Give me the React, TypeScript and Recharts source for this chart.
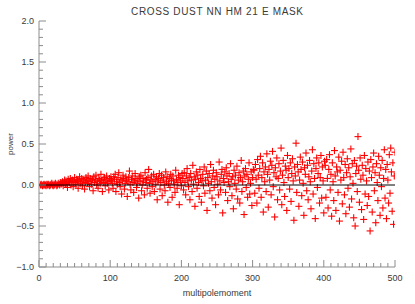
import React from 'react';
import { ComposedChart, Scatter, XAxis, YAxis } from 'recharts';

const TITLE = 'CROSS DUST NN HM 21 E MASK';
const X_LABEL = 'multipolemoment';
const Y_LABEL = 'power';
const FIRST_MULTIPOLE = 2;

const power2to101 = [
  0.00, 0.01, 0.00, -0.01, 0.00, 0.01, 0.00, 0.00, -0.01, 0.01,
  0.00, 0.01, 0.00, -0.01, 0.00, 0.01, 0.02, 0.00, -0.01, 0.01,
  0.00, 0.02, 0.01, -0.01, 0.00, 0.02, 0.01, 0.00, 0.03, 0.01,
  0.02, 0.04, -0.01, 0.03, 0.06, 0.01, 0.05, 0.02, -0.03, 0.07,
  0.04, 0.03, 0.08, 0.00, 0.05, 0.06, -0.02, 0.04, 0.09, 0.03,
  0.01, 0.07, 0.05, -0.04, 0.06, 0.10, 0.02, 0.04, 0.08, -0.01,
  0.05, 0.07, -0.05, 0.03, 0.09, 0.06, 0.02, 0.11, 0.04, -0.02,
  0.08, 0.05, 0.01, 0.07, -0.07, 0.10, 0.03, 0.06, 0.12, 0.00,
  0.04, -0.04, 0.08, 0.06, 0.02, 0.13, 0.05, -0.08, 0.07, 0.03,
  0.09, -0.01, 0.06, 0.11, 0.02, 0.04, -0.06, 0.08, 0.05, 0.10,
];
const power102to201 = [
  0.06, 0.02, -0.04, 0.10, 0.07, 0.13, -0.08, 0.04, 0.01, 0.09,
  0.15, 0.03, -0.02, 0.07, -0.11, 0.05, 0.12, 0.08, -0.05, 0.02,
  0.10, 0.06, -0.14, 0.04, 0.09, 0.17, 0.01, -0.06, 0.07, 0.11,
  0.03, -0.09, 0.05, 0.14, 0.08, -0.03, 0.02, 0.06, -0.16, 0.10,
  0.04, 0.12, -0.07, 0.00, 0.08, 0.05, -0.12, 0.15, 0.03, 0.07,
  -0.04, 0.09, 0.19, 0.02, -0.10, 0.06, 0.11, -0.02, 0.04, 0.13,
  -0.08, 0.07, 0.01, 0.10, -0.18, 0.05, 0.08, 0.14, -0.05, 0.03,
  0.12, -0.13, 0.06, 0.09, 0.00, -0.07, 0.16, 0.04, 0.10, -0.21,
  0.02, 0.08, -0.03, 0.13, 0.06, -0.15, 0.11, 0.05, 0.01, -0.09,
  0.18, 0.07, -0.04, 0.03, 0.12, -0.24, 0.09, 0.05, -0.01, 0.14,
];
const power202to301 = [
  0.08, -0.06, 0.15, 0.03, -0.12, 0.11, 0.20, 0.05, -0.02, 0.09,
  -0.18, 0.14, 0.06, -0.08, 0.24, 0.01, 0.10, -0.26, 0.07, 0.16,
  -0.04, 0.12, 0.03, -0.14, 0.19, 0.08, -0.21, 0.05, 0.13, -0.01,
  0.22, -0.10, 0.06, 0.17, -0.31, 0.09, 0.02, 0.14, -0.07, 0.25,
  0.04, -0.16, 0.11, 0.18, -0.03, 0.07, -0.24, 0.15, 0.10, 0.01,
  -0.12, 0.28, 0.05, -0.06, 0.13, 0.19, -0.34, 0.08, 0.03, 0.16,
  -0.09, 0.21, 0.11, -0.19, 0.04, 0.14, -0.02, 0.26, 0.07, -0.13,
  0.10, -0.29, 0.18, 0.02, 0.12, -0.05, 0.23, -0.17, 0.06, 0.15,
  -0.22, 0.09, 0.30, -0.08, 0.04, 0.17, -0.36, 0.11, 0.20, -0.03,
  0.13, -0.15, 0.07, 0.27, -0.11, 0.02, 0.16, -0.25, 0.09, 0.19,
];
const power302to401 = [
  0.18, -0.10, 0.25, 0.07, -0.22, 0.31, 0.12, -0.04, 0.20, 0.35,
  -0.15, 0.09, 0.27, -0.33, 0.16, 0.04, 0.22, -0.08, 0.38, 0.13,
  -0.27, 0.19, 0.06, 0.29, -0.12, 0.24, 0.41, -0.02, 0.15, -0.39,
  0.21, 0.10, 0.33, -0.18, 0.08, 0.26, -0.06, 0.17, 0.45, -0.24,
  0.12, 0.30, 0.03, -0.14, 0.23, 0.18, -0.31, 0.36, 0.09, 0.20,
  -0.05, 0.27, -0.20, 0.14, 0.32, 0.05, -0.43, 0.22, 0.11, 0.51,
  -0.09, 0.25, 0.16, -0.26, 0.06, 0.34, 0.19, -0.13, 0.28, 0.02,
  -0.37, 0.21, 0.13, 0.39, -0.07, 0.24, -0.18, 0.10, 0.30, 0.04,
  -0.29, 0.17, 0.43, -0.11, 0.26, 0.08, -0.41, 0.20, 0.33, -0.03,
  0.14, 0.27, -0.22, 0.09, 0.36, -0.16, 0.22, 0.05, -0.34, 0.29,
];
const power402to500 = [
  0.24, -0.15, 0.31, 0.08, -0.28, 0.19, 0.37, -0.06, 0.13, -0.38,
  0.27, 0.04, -0.19, 0.42, 0.11, -0.31, 0.22, 0.16, -0.09, 0.34,
  -0.44, 0.18, 0.06, 0.29, -0.23, 0.40, 0.09, -0.12, 0.25, -0.35,
  0.15, 0.32, -0.04, 0.21, -0.27, 0.10, 0.44, -0.17, 0.26, 0.02,
  -0.40, 0.30, -0.50, 0.14, 0.23, -0.08, 0.59, 0.18, -0.21, 0.33,
  0.07, -0.30, 0.24, 0.12, -0.42, 0.36, -0.11, 0.20, 0.05, -0.25,
  0.28, -0.14, 0.17, -0.56, 0.31, 0.09, -0.33, 0.22, 0.39, -0.07,
  0.15, -0.46, 0.26, 0.03, -0.19, 0.35, 0.12, -0.37, 0.21, -0.02,
  0.30, -0.28, 0.08, 0.43, -0.16, 0.19, -0.41, 0.25, 0.06, -0.22,
  0.37, -0.10, 0.45, 0.16, -0.32, 0.27, -0.48, 0.11, 0.40,
];

const modelMultipoles = [0, 500];
const modelPower = [0, 0];

const xDomain = [0, 500];
const yDomain = [-1, 2];
const xMajorStep = 100;
const xMinorStep = 10;
const yMajorStep = 0.5;
const yMinorStep = 0.1;

const allPower = [
  ...power2to101,
  ...power102to201,
  ...power202to301,
  ...power302to401,
  ...power402to500,
];
const points = allPower.map((p, i) => ({ l: FIRST_MULTIPOLE + i, power: p }));
const model = modelMultipoles.map((l, i) => ({ l, power: modelPower[i] }));

const xTicks = Array.from(
  { length: Math.round((xDomain[1] - xDomain[0]) / xMinorStep) + 1 },
  (_, i) => xDomain[0] + i * xMinorStep
);
const yTicks = Array.from(
  { length: Math.round((yDomain[1] - yDomain[0]) / yMinorStep) + 1 },
  (_, i) => Math.round((yDomain[0] + i * yMinorStep) * 10) / 10
);

const AXIS = '#8c8c8c';
const TEXT = '#3a3a3a';
const FONT = '"Liberation Sans", Arial, Helvetica, sans-serif';
const MAJOR_LEN = 7;
const MINOR_LEN = 4;

const isXMajor = (v: number) => Math.abs(v / xMajorStep - Math.round(v / xMajorStep)) < 1e-6;
const isYMajor = (v: number) => Math.abs(v / yMajorStep - Math.round(v / yMajorStep)) < 1e-6;
const fmtY = (v: number) => (v < 0 ? '\u2212' + Math.abs(v).toFixed(1) : v.toFixed(1));

const BottomTick = (props: any) => {
  const { x, y, payload } = props;
  const v = payload.value;
  const major = isXMajor(v);
  return (
    <g>
      <line x1={x} x2={x} y1={y} y2={y - (major ? MAJOR_LEN : MINOR_LEN)} stroke={AXIS} strokeWidth={1} />
      {major && (
        <text x={x} y={y + 14} textAnchor="middle" fontSize={9} fill={TEXT} fontFamily={FONT}>
          {v}
        </text>
      )}
    </g>
  );
};

const TopTick = (props: any) => {
  const { x, y, payload } = props;
  const major = isXMajor(payload.value);
  return <line x1={x} x2={x} y1={y} y2={y + (major ? MAJOR_LEN : MINOR_LEN)} stroke={AXIS} strokeWidth={1} />;
};

const LeftTick = (props: any) => {
  const { x, y, payload } = props;
  const v = payload.value;
  const major = isYMajor(v);
  return (
    <g>
      <line x1={x} x2={x + (major ? MAJOR_LEN : MINOR_LEN)} y1={y} y2={y} stroke={AXIS} strokeWidth={1} />
      {major && (
        <text x={x - 5} y={y + 3} textAnchor="end" fontSize={9} fill={TEXT} fontFamily={FONT}>
          {fmtY(v)}
        </text>
      )}
    </g>
  );
};

const RightTick = (props: any) => {
  const { x, y, payload } = props;
  const major = isYMajor(payload.value);
  return <line x1={x} x2={x - (major ? MAJOR_LEN : MINOR_LEN)} y1={y} y2={y} stroke={AXIS} strokeWidth={1} />;
};

const PlusMark = (props: any) => {
  const { cx, cy } = props;
  if (cx == null || cy == null) return <g />;
  const h = 3.5;
  return (
    <g>
      <line x1={cx - h} x2={cx + h} y1={cy} y2={cy} stroke="#ff0000" strokeWidth={1.1} />
      <line x1={cx} x2={cx} y1={cy - h} y2={cy + h} stroke="#ff0000" strokeWidth={1.1} />
    </g>
  );
};

const NoMark = () => <g />;

const W = 415;
const H = 304;

export default function App() {
  return (
    <div style={{ position: 'absolute', left: 0, top: 0, width: W, height: H, background: '#fff' }}>
      <ComposedChart
        width={W}
        height={H}
        data={points}
        margin={{ top: 21, right: 20, bottom: 0, left: 0 }}
      >
        <XAxis
          xAxisId="bottom"
          dataKey="l"
          type="number"
          orientation="bottom"
          domain={xDomain}
          ticks={xTicks}
          interval={0}
          allowDataOverflow
          height={37}
          tickSize={0}
          tickMargin={0}
          tickLine={false}
          axisLine={{ stroke: AXIS }}
          tick={<BottomTick />}
        />
        <XAxis
          xAxisId="top"
          dataKey="l"
          type="number"
          orientation="top"
          domain={xDomain}
          ticks={xTicks}
          interval={0}
          allowDataOverflow
          height={0}
          tickSize={0}
          tickMargin={0}
          tickLine={false}
          axisLine={{ stroke: AXIS }}
          tick={<TopTick />}
        />
        <YAxis
          yAxisId="left"
          dataKey="power"
          type="number"
          orientation="left"
          domain={yDomain}
          ticks={yTicks}
          interval={0}
          allowDataOverflow
          width={39}
          tickSize={0}
          tickMargin={0}
          tickLine={false}
          axisLine={{ stroke: AXIS }}
          tick={<LeftTick />}
        />
        <YAxis
          yAxisId="right"
          dataKey="power"
          type="number"
          orientation="right"
          domain={yDomain}
          ticks={yTicks}
          interval={0}
          allowDataOverflow
          width={0}
          tickSize={0}
          tickMargin={0}
          tickLine={false}
          axisLine={{ stroke: AXIS }}
          tick={<RightTick />}
        />
        <Scatter
          data={points}
          dataKey="power"
          xAxisId="bottom"
          yAxisId="left"
          shape={<PlusMark />}
          isAnimationActive={false}
        />
        <Scatter
          data={model}
          dataKey="power"
          xAxisId="top"
          yAxisId="right"
          line={{ stroke: '#000000', strokeWidth: 1 }}
          shape={<NoMark />}
          isAnimationActive={false}
        />
      </ComposedChart>
      <svg
        width={W}
        height={H}
        style={{ position: 'absolute', left: 0, top: 0, pointerEvents: 'none' }}
      >
        <text x={217} y={15} textAnchor="middle" fontSize={10} fill={TEXT} fontFamily={FONT} textLength={172} lengthAdjust="spacing">
          {TITLE}
        </text>
        <text x={217} y={296} textAnchor="middle" fontSize={9} fill={TEXT} fontFamily={FONT}>
          {X_LABEL}
        </text>
        <text
          x={13}
          y={144}
          textAnchor="middle"
          fontSize={8}
          fill={TEXT}
          fontFamily={FONT}
          transform="rotate(-90 13 144)"
        >
          {Y_LABEL}
        </text>
      </svg>
    </div>
  );
}
